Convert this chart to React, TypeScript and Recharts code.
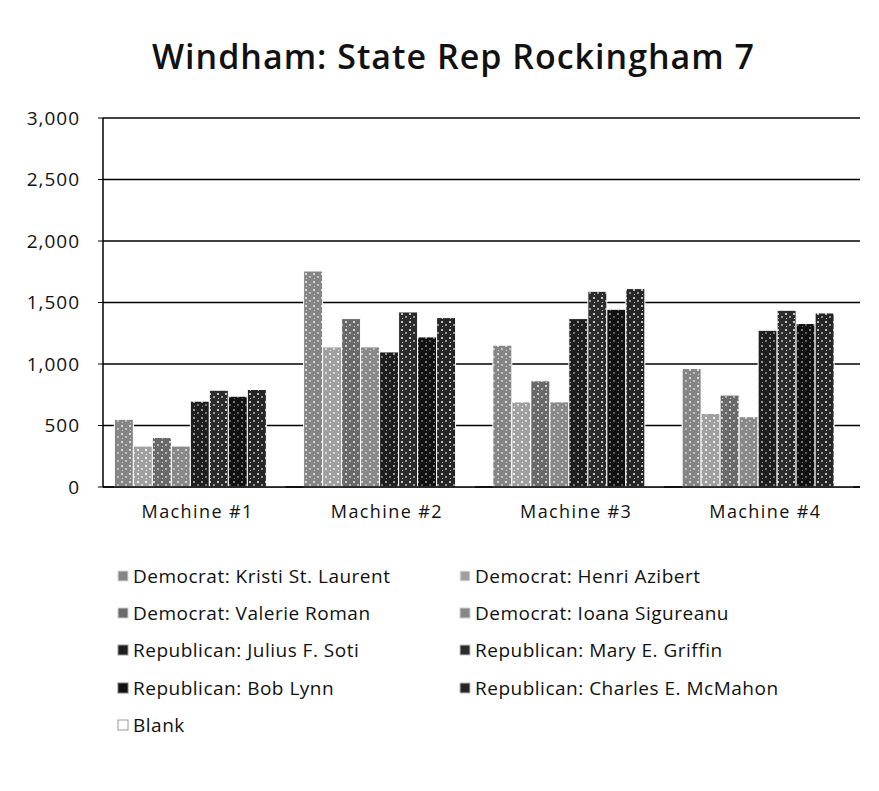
import { BarChart, Bar, XAxis, YAxis, CartesianGrid } from "recharts";

const categories = ["Machine #1", "Machine #2", "Machine #3", "Machine #4"];
const kristi = [550, 1756, 1153, 963];
const henri = [333, 1139, 692, 598];
const valerie = [403, 1369, 863, 747];
const ioana = [333, 1139, 692, 571];
const julius = [698, 1098, 1369, 1274];
const mary = [787, 1423, 1591, 1437];
const bob = [738, 1220, 1445, 1329];
const charles = [793, 1377, 1613, 1415];
const blank = [4, 9, 7, 5];
const yTicks = [0, 500, 1000, 1500, 2000, 2500, 3000];

const series = [
  { key: "kristi", name: "Democrat: Kristi St. Laurent", values: kristi, base: "#858585", spot: "#d8d8d8" },
  { key: "henri", name: "Democrat: Henri Azibert", values: henri, base: "#a0a0a0", spot: "#eeeeee" },
  { key: "valerie", name: "Democrat: Valerie Roman", values: valerie, base: "#6a6a6a", spot: "#cfcfcf" },
  { key: "ioana", name: "Democrat: Ioana Sigureanu", values: ioana, base: "#888888", spot: "#d0d0d0" },
  { key: "julius", name: "Republican: Julius F. Soti", values: julius, base: "#1e1e1e", spot: "#9a9a9a" },
  { key: "mary", name: "Republican: Mary E. Griffin", values: mary, base: "#2c2c2c", spot: "#c4c4c4" },
  { key: "bob", name: "Republican: Bob Lynn", values: bob, base: "#111111", spot: "#7a7a7a" },
  { key: "charles", name: "Republican: Charles E. McMahon", values: charles, base: "#262626", spot: "#bdbdbd" },
  { key: "blank", name: "Blank", values: blank, base: "#ffffff", spot: "#ffffff" },
];

const data = categories.map((c, i) => {
  const row: Record<string, string | number> = { machine: c };
  series.forEach((s) => (row[s.key] = s.values[i]));
  return row;
});

const font = "'Open Sans', Lato, sans-serif";

export default function App() {
  return (
    <div style={{ position: "relative", width: 879, height: 791, margin: -8, background: "#fff", fontFamily: font, overflow: "hidden" }}>
      <div style={{ position: "absolute", left: 7, top: 5, width: 872, height: 786, borderTop: "1px dashed #999", borderLeft: "1px dashed #aaa" }} />
      <div style={{ position: "absolute", top: 33, left: 14, width: 879, textAlign: "center", fontSize: 34, fontWeight: 600, letterSpacing: 1, color: "#111", lineHeight: "normal" }}>
        Windham: State Rep Rockingham 7
      </div>
      <div style={{ position: "absolute", left: 0, top: 0 }}>
        <BarChart width={879} height={540} data={data} margin={{ top: 118, right: 19, left: 0, bottom: 13 }} barCategoryGap="6%" barGap={0}>
          <defs>
            {series.map((s) => (
              <pattern key={s.key} id={`pat-${s.key}`} width="8" height="8" patternUnits="userSpaceOnUse">
                <rect width="8" height="8" fill={s.base} />
                <rect x="1" y="1" width="2" height="2" fill={s.spot} />
                <rect x="5" y="4" width="2" height="2" fill={s.spot} opacity="0.7" />
                <rect x="2" y="6" width="1" height="1" fill={s.spot} />
              </pattern>
            ))}
          </defs>
          <CartesianGrid vertical={false} stroke="#000" strokeWidth={1.5} />
          <XAxis dataKey="machine" tickLine={false} axisLine={{ stroke: "#000", strokeWidth: 1.5 }} height={40} tick={{ fontSize: 18, fill: "#111", fontFamily: font, letterSpacing: 1.4 }} tickMargin={12} />
          <YAxis domain={[0, 3000]} ticks={yTicks} width={103} axisLine={{ stroke: "#000", strokeWidth: 1.5 }} tickLine={{ stroke: "#000" }} tickSize={5} tickMargin={18} tickFormatter={(v: number) => v.toLocaleString("en-US")} tick={{ fontSize: 19, fill: "#111", fontFamily: font, letterSpacing: 1 }} />
          {series.map((s) => (
            <Bar key={s.key} dataKey={s.key} name={s.name} fill={`url(#pat-${s.key})`} stroke="#fff" strokeWidth={1} isAnimationActive={false} />
          ))}
        </BarChart>
      </div>
      <div style={{ position: "absolute", left: 116, top: 557, display: "grid", gridTemplateColumns: "342px 342px", rowGap: 0 }}>
        {series.map((s) => (
          <div key={s.key} style={{ height: 37.4, display: "flex", alignItems: "center", fontSize: 19, letterSpacing: 0.5, color: "#111", whiteSpace: "nowrap" }}>
            <svg width="14" height="12" style={{ marginRight: 3 }}>
              <rect x="2" y="1" width="10" height="10" fill={s.key === "blank" ? "#fff" : s.base} stroke={s.key === "blank" ? "#999" : s.spot} strokeWidth={1} />
            </svg>
            {s.name}
          </div>
        ))}
      </div>
    </div>
  );
}
